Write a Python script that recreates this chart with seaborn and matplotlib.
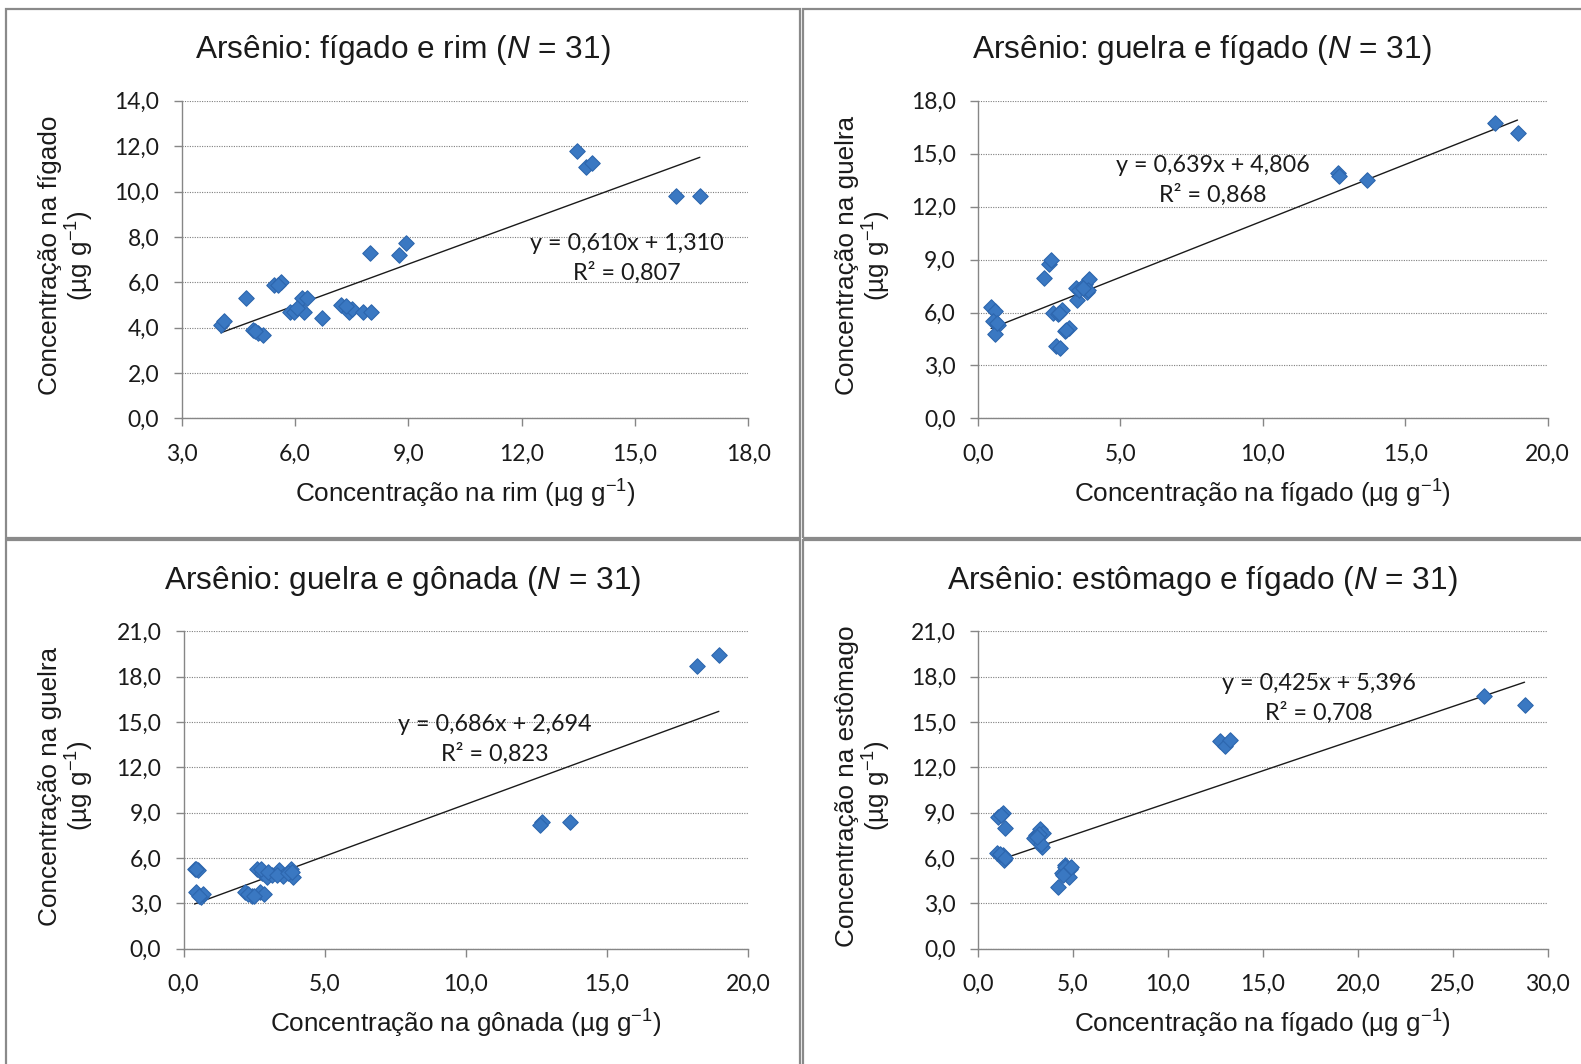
import numpy as np
import pandas as pd
import seaborn as sns
import matplotlib
matplotlib.use("Agg")
import matplotlib.pyplot as plt
from matplotlib.patches import Rectangle
from matplotlib.ticker import FuncFormatter, MultipleLocator

# ---- data: arsenic concentrations (µg g-1), N = 31 per pair of tissues ----
rim_x = [4.04, 4.12, 4.71, 4.89, 5.03, 5.16, 5.46, 5.64, 5.86, 5.99, 6.18, 6.31, 6.23,
         6.71, 7.22, 7.43, 7.51, 7.80, 8.02, 7.99, 8.76, 8.95, 13.46, 13.70, 13.86,
         16.10, 16.72, 5.55, 6.05, 7.35, 4.95]
figado_y = [4.13, 4.31, 5.29, 3.91, 3.78, 3.69, 5.87, 6.00, 4.71, 4.71, 5.29, 5.29, 4.71,
            4.44, 5.02, 4.67, 4.84, 4.71, 4.71, 7.29, 7.20, 7.73, 11.78, 11.07, 11.24,
            9.82, 9.82, 5.90, 4.85, 4.95, 3.85]

figado2_x = [0.46, 0.60, 0.53, 0.71, 0.60, 2.30, 2.51, 2.55, 2.73, 2.87, 2.65, 2.80, 2.94,
             3.04, 3.19, 3.47, 3.43, 3.54, 3.75, 3.89, 3.82, 3.86, 12.64, 12.67, 13.66,
             18.16, 18.94, 0.65, 2.85, 3.70, 3.10]
guelra_y = [6.34, 6.11, 5.54, 5.31, 4.80, 7.94, 8.74, 8.97, 4.11, 4.00, 6.00, 5.89, 6.17,
            4.97, 5.14, 6.69, 7.37, 7.26, 7.60, 7.89, 7.14, 7.30, 13.89, 13.71, 13.49,
            16.74, 16.17, 5.40, 6.00, 7.40, 5.00]

gonada_x = [0.39, 0.50, 0.46, 0.61, 0.68, 2.18, 2.43, 2.61, 2.71, 2.86, 2.79, 2.96, 3.39,
            3.54, 3.82, 3.89, 3.14, 12.68, 12.64, 13.68, 18.18, 18.96, 0.55, 2.30, 2.75,
            3.00, 3.30, 3.70, 3.85, 2.50, 0.45]
guelra2_y = [5.27, 5.20, 3.73, 3.40, 3.60, 3.73, 3.47, 5.27, 3.73, 3.60, 5.00, 4.73, 5.20,
             4.80, 5.27, 4.73, 4.87, 8.40, 8.20, 8.40, 18.73, 19.40, 3.50, 3.60, 5.30,
             5.10, 4.90, 5.00, 5.10, 3.50, 5.25]

figado4_x = [1.06, 1.33, 1.43, 1.01, 1.27, 1.38, 3.08, 3.24, 3.40, 3.35, 2.97, 4.20, 4.41,
             4.57, 4.83, 4.78, 12.75, 13.00, 13.28, 26.66, 28.78, 1.20, 1.30, 1.15, 1.40,
             3.20, 3.30, 3.10, 4.60, 4.45, 4.90]
estomago_y = [8.73, 9.00, 8.00, 6.33, 6.13, 5.87, 7.53, 7.93, 7.67, 6.73, 7.33, 4.07, 5.00,
              5.53, 5.27, 4.73, 13.73, 13.40, 13.80, 16.73, 16.13, 8.85, 6.20, 6.25, 6.00,
              7.60, 6.90, 7.40, 5.40, 4.90, 5.40]

# regression coefficients (slope, intercept, R²)
fits = [(0.610, 1.310, 0.807), (0.639, 4.806, 0.868), (0.686, 2.694, 0.823), (0.425, 5.396, 0.708)]

titles = ["Arsênio: fígado e rim ($\\it{N}$ = 31)",
          "Arsênio: guelra e fígado ($\\it{N}$ = 31)",
          "Arsênio: guelra e gônada ($\\it{N}$ = 31)",
          "Arsênio: estômago e fígado ($\\it{N}$ = 31)"]
xlabels = ["Concentração na rim (µg g$^{-1}$)", "Concentração na fígado (µg g$^{-1}$)",
           "Concentração na gônada (µg g$^{-1}$)", "Concentração na fígado (µg g$^{-1}$)"]
ylabels = ["Concentração na fígado\n(µg g$^{-1}$)", "Concentração na guelra\n(µg g$^{-1}$)",
           "Concentração na guelra\n(µg g$^{-1}$)", "Concentração na estômago\n(µg g$^{-1}$)"]
xlims = [(3, 18, 3), (0, 20, 5), (0, 20, 5), (0, 30, 5)]
ylims = [(0, 14, 2), (0, 18, 3), (0, 21, 3), (0, 21, 3)]
eq_pos = [(14.8, 7.05), (8.25, 13.5), (11.04, 13.83), (17.95, 16.57)]

sns.set_theme(style="white")
plt.rcParams["font.family"] = ["Liberation Sans", "DejaVu Sans"]
plt.rcParams["mathtext.fontset"] = "custom"
plt.rcParams["mathtext.rm"] = "Liberation Sans"
plt.rcParams["mathtext.it"] = "Liberation Sans:italic"
plt.rcParams["mathtext.bf"] = "Liberation Sans:bold"

TICK_FONT = ["Lato", "DejaVu Sans"]
INK = "#1a1a1a"

W, H = 1581, 1064
fig = plt.figure(figsize=(W / 100, H / 100), dpi=100)
fig.patch.set_facecolor("white")

# panel frames (pixel coordinates, top-left origin)
frames = [(6, 9, 794, 529), (803, 9, 790, 529), (6, 540, 794, 540), (803, 540, 790, 540)]
for (x0, y0, w, h) in frames:
    fig.patches.append(Rectangle((x0 / W, 1 - (y0 + h) / H), w / W, h / H,
                                 transform=fig.transFigure, fill=False,
                                 edgecolor="#8a8a8a", lw=1.6, zorder=0))

# plot areas (pixel coordinates: left, top, right, bottom)
areas = [(181.5, 100.8, 748.2, 418.4), (978.0, 100.8, 1547.7, 418.4),
         (183.5, 631.2, 748.2, 948.8), (978.0, 631.2, 1547.7, 948.8)]
title_pos = [(403, 50), (1202, 50), (403, 581), (1202, 581)]
ylabel_x = [67, 864, 67, 864]

datasets = [(rim_x, figado_y), (figado2_x, guelra_y), (gonada_x, guelra2_y), (figado4_x, estomago_y)]

comma = FuncFormatter(lambda v, p: f"{v:.1f}".replace(".", ","))

for i in range(4):
    l, t, r, b = areas[i]
    ax = fig.add_axes([l / W, 1 - b / H, (r - l) / W, (b - t) / H])
    xs, ys = datasets[i]
    df = pd.DataFrame({"x": xs, "y": ys})
    m, c, r2 = fits[i]
    line = pd.DataFrame({"x": [min(xs), max(xs)]})
    line["y"] = m * line["x"] + c
    sns.lineplot(data=line, x="x", y="y", ax=ax, color=INK, lw=1.0, zorder=3)
    sns.scatterplot(data=df, x="x", y="y", ax=ax, marker="D", s=62,
                    color="#3a78c2", edgecolor="#2d66ae", linewidth=0.8, zorder=4)

    x0, x1, xs_ = xlims[i]
    y0, y1, ys_ = ylims[i]
    ax.set_xlim(x0, x1)
    ax.set_ylim(y0, y1)
    ax.xaxis.set_major_locator(MultipleLocator(xs_))
    ax.yaxis.set_major_locator(MultipleLocator(ys_))
    ax.xaxis.set_major_formatter(comma)
    ax.yaxis.set_major_formatter(comma)
    ax.grid(axis="y", color="#7f7f7f", linestyle=(0, (1, 1.2)), lw=0.8)
    ax.set_axisbelow(True)
    for s in ["top", "right"]:
        ax.spines[s].set_visible(False)
    for s in ["left", "bottom"]:
        ax.spines[s].set_color("#868686")
        ax.spines[s].set_linewidth(1.0)
    ax.tick_params(axis="both", direction="out", length=6, width=1.0, color="#868686",
                   labelsize=16.5, labelcolor=INK, bottom=True, left=True)
    ax.tick_params(axis="x", pad=12)
    ax.tick_params(axis="y", pad=10)
    for lab in ax.get_xticklabels() + ax.get_yticklabels():
        lab.set_family(TICK_FONT)
    ax.set_xlabel("")
    ax.set_ylabel("")

    # axis titles
    fig.text(((l + r) / 2) / W, 1 - (b + 75.5) / H, xlabels[i], ha="center", va="center",
             fontsize=18.8, color=INK)
    fig.text(ylabel_x[i] / W, 1 - ((t + b) / 2 - 4) / H, ylabels[i], ha="center",
             va="center", rotation=90, fontsize=18.8, color=INK, linespacing=1.1,
             multialignment="center")

    ex, ey = eq_pos[i]
    ax.text(ex, ey, f"y = {m:.3f}x + {c:.3f}".replace(".", ",") + "\n" +
            f"R² = {r2:.3f}".replace(".", ","), ha="center", va="center",
            fontsize=16.8, color=INK, linespacing=1.42, zorder=5, family=TICK_FONT)

    tx, ty = title_pos[i]
    fig.text(tx / W, 1 - ty / H, titles[i], ha="center", va="center",
             fontsize=22.8, color=INK)

fig.savefig("out.png", dpi=100, facecolor="white")
